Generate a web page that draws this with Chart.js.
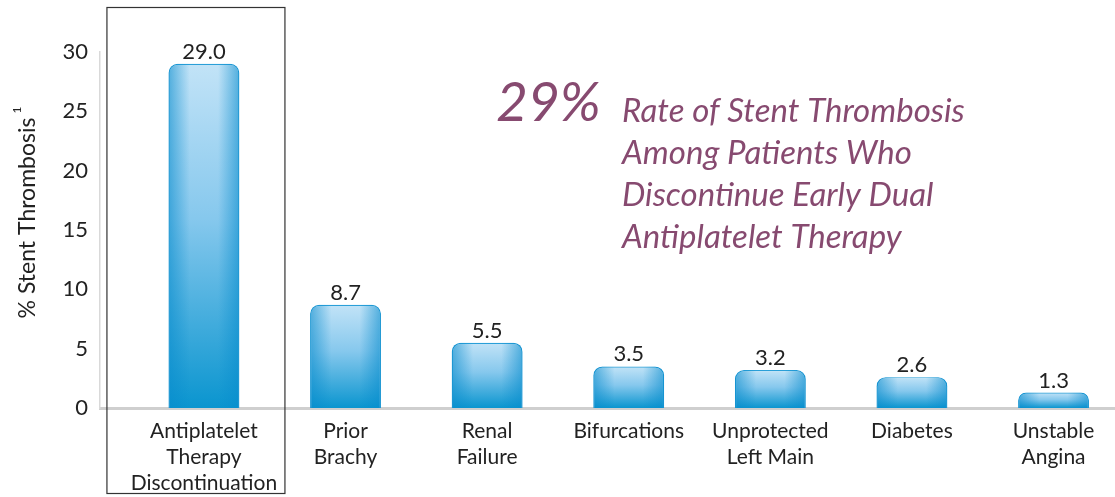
<!DOCTYPE html>
<html>
<head>
<meta charset="utf-8">
<script src="https://cdn.jsdelivr.net/npm/chart.js@4.4.0/dist/chart.umd.min.js"></script>
<style>
  html, body { margin: 0; padding: 0; background: #fff; }
  #wrap { width: 1115px; height: 497px; position: relative; }
</style>
</head>
<body>
<div id="wrap"><canvas id="stentChart"></canvas></div>
<script>
// Chart data
const categories = [
    ['Antiplatelet', 'Therapy', 'Discontinuation'],
    ['Prior', 'Brachy'],
    ['Renal', 'Failure'],
    ['Bifurcations'],
    ['Unprotected', 'Left Main'],
    ['Diabetes'],
    ['Unstable', 'Angina']
];
const rates = [29.0, 8.7, 5.5, 3.5, 3.2, 2.6, 1.3];
const yTicks = [0, 5, 10, 15, 20, 25, 30];
const yTitle = '% Stent Thrombosis';
const yTitleNote = '1';
const calloutBig = '29%';
const calloutLines = [
    'Rate of Stent Thrombosis',
    'Among Patients Who',
    'Discontinue Early Dual',
    'Antiplatelet Therapy'
];

const FONT = 'Lato, "Noto Sans", sans-serif';
const TEXT = '#222222';
const PURPLE = '#874a70';

// vertical gradient for each bar, from its own top to the baseline
function barFill(ctx) {
    const chart = ctx.chart;
    const area = chart.chartArea;
    if (!area || ctx.type !== 'data') return '#5fb6e6';
    const y = chart.scales.y;
    const top = y.getPixelForValue(rates[ctx.dataIndex]);
    const base = y.getPixelForValue(0);
    const g = chart.ctx.createLinearGradient(0, top, 0, base);
    g.addColorStop(0, '#c2e3f7');
    g.addColorStop(0.45, '#86c8ed');
    g.addColorStop(1, '#0a95cf');
    return g;
}

// darker side shading, box round the first category, value labels, titles
const extras = {
    id: 'extras',
    afterDatasetsDraw(chart) {
        const c = chart.ctx;
        const meta = chart.getDatasetMeta(0);
        meta.data.forEach((bar, i) => {
            const w = bar.width, left = bar.x - w / 2, top = bar.y, h = bar.base - bar.y;
            c.save();
            c.beginPath();
            c.roundRect(left, top, w, h, [9, 9, 0, 0]);
            c.clip();
            const g = c.createLinearGradient(left, 0, left + w, 0);
            g.addColorStop(0, 'rgba(8,140,205,0.6)');
            g.addColorStop(0.3, 'rgba(8,140,205,0)');
            g.addColorStop(0.7, 'rgba(8,140,205,0)');
            g.addColorStop(1, 'rgba(8,140,205,0.6)');
            c.fillStyle = g;
            c.fillRect(left, top, w, h);
            c.restore();

            c.save();
            c.font = '22px ' + FONT;
            c.fillStyle = TEXT;
            c.textAlign = 'center';
            c.textBaseline = 'alphabetic';
            c.fillText(rates[i].toFixed(1), bar.x, bar.y - 5);
            c.restore();
        });

        // frame round the first category
        const cx = chart.scales.x.getPixelForValue(0);
        c.save();
        c.strokeStyle = '#333';
        c.lineWidth = 1.2;
        c.strokeRect(cx - 97, 7.5, 178, 486);
        c.restore();

        // rotated y title with its footnote mark
        c.save();
        c.translate(28, 218);
        c.rotate(-Math.PI / 2);
        c.fillStyle = TEXT;
        c.font = '23px ' + FONT;
        c.textAlign = 'center';
        c.textBaseline = 'middle';
        c.fillText(yTitle, 0, 0);
        const tw = c.measureText(yTitle).width;
        c.font = '12px ' + FONT;
        c.textAlign = 'left';
        c.fillText(yTitleNote, tw / 2 + 4, -11);
        c.restore();

        c.save();
        c.fillStyle = PURPLE;
        c.textBaseline = 'alphabetic';
        c.font = 'italic 55px ' + FONT;
        c.fillText(calloutBig, 496, 121);
        c.font = 'italic 33px ' + FONT;
        calloutLines.forEach((line, i) => c.fillText(line, 622, 122 + i * 42));
        c.restore();
    }
};

new Chart(document.getElementById('stentChart'), {
    type: 'bar',
    data: {
        datasets: [{
            data: rates.map((v, i) => ({ x: i, y: v })),
            backgroundColor: barFill,
            borderColor: '#2a9fd8',
            borderWidth: 1.2,
            borderSkipped: 'bottom',
            borderRadius: { topLeft: 9, topRight: 9, bottomLeft: 0, bottomRight: 0 },
            categoryPercentage: 1,
            barPercentage: 0.5
        }]
    },
    options: {
        responsive: true,
        maintainAspectRatio: false,
        animation: false,
        layout: { padding: { top: 52, right: 0, left: 0, bottom: 0 } },
        plugins: { legend: { display: false }, tooltip: { enabled: false } },
        scales: {
            x: {
                type: 'linear',
                offset: false,
                min: -0.734,
                max: 6.434,
                afterBuildTicks: s => { s.ticks = categories.map((_, i) => ({ value: i })); },
                afterFit: s => { s.height = 89; s.paddingLeft = 0; s.paddingRight = 0; },
                grid: { display: false, drawTicks: false },
                border: { color: '#cfcfcf', width: 3 },
                ticks: {
                    callback: v => categories[v],
                    color: TEXT,
                    padding: 10,
                    maxRotation: 0,
                    autoSkip: false,
                    font: { family: FONT, size: 21, lineHeight: 1.24 }
                }
            },
            y: {
                min: 0,
                max: 30,
                afterBuildTicks: s => { s.ticks = yTicks.map(v => ({ value: v })); },
                afterFit: s => { s.width = 100; s.paddingTop = 0; s.paddingBottom = 0; },
                grid: { display: false, drawTicks: false },
                border: { color: '#d9d9d9', width: 1.5 },
                ticks: {
                    color: TEXT,
                    padding: 12,
                    font: { family: FONT, size: 22 }
                }
            }
        }
    },
    plugins: [extras]
});
</script>
</body>
</html>
